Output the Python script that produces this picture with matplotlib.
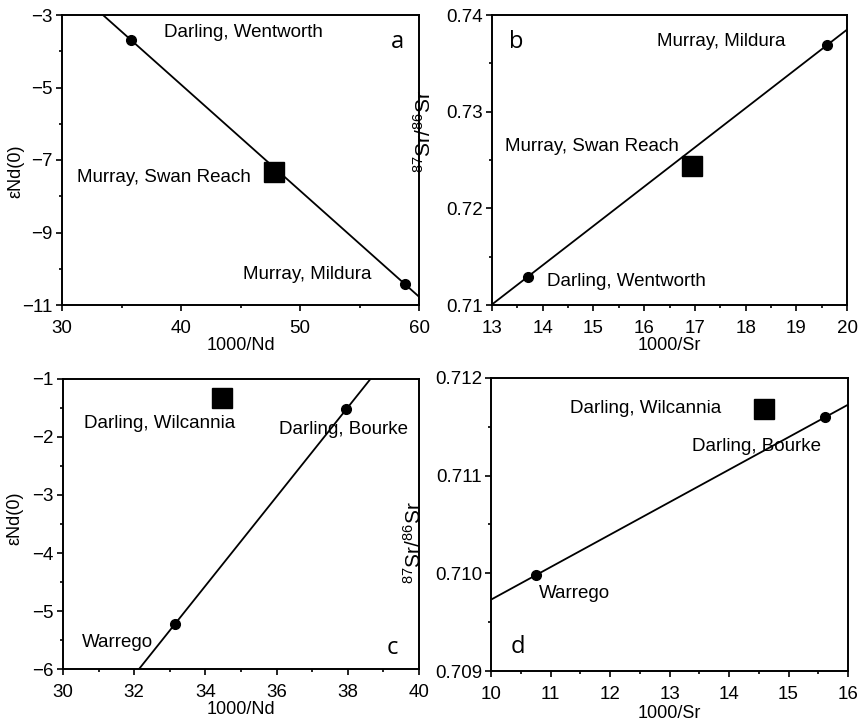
import numpy as np
import matplotlib
matplotlib.use("Agg")
import matplotlib.pyplot as plt
from matplotlib.ticker import MultipleLocator, FixedLocator, FormatStrFormatter

plt.rcParams["font.family"] = ["Liberation Sans", "DejaVu Sans"]
plt.rcParams["mathtext.default"] = "regular"

# ---- data ----
# a: eNd vs 1000/Nd (Murray)
a_circ_x = [35.8, 58.8]
a_circ_y = [-3.69, -10.42]
a_sq_x = [47.8]
a_sq_y = [-7.32]
a_labels = ["Darling, Wentworth", "Murray, Swan Reach", "Murray, Mildura"]

# b: 87Sr/86Sr vs 1000/Sr (Murray)
b_circ_x = [13.70, 19.61]
b_circ_y = [0.7129, 0.7369]
b_sq_x = [16.95]
b_sq_y = [0.7244]
b_labels = ["Murray, Mildura", "Murray, Swan Reach", "Darling, Wentworth"]

# c: eNd vs 1000/Nd (Darling)
c_circ_x = [33.15, 37.96]
c_circ_y = [-5.22, -1.52]
c_sq_x = [34.48]
c_sq_y = [-1.32]
c_labels = ["Darling, Wilcannia", "Darling, Bourke", "Warrego"]

# d: 87Sr/86Sr vs 1000/Sr (Darling)
d_circ_x = [10.75, 15.62]
d_circ_y = [0.70998, 0.71160]
d_sq_x = [14.59]
d_sq_y = [0.71168]
d_labels = ["Darling, Wilcannia", "Darling, Bourke", "Warrego"]

W, H = 863, 727
fig = plt.figure(figsize=(W / 100, H / 100), dpi=100)


def px_axes(left, top, right, bottom):
    return fig.add_axes([left / W, 1 - bottom / H, (right - left) / W, (bottom - top) / H])


def style(ax, xlim, ylim, xmaj, xmin, ymaj, ymin):
    ax.set_xlim(*xlim)
    ax.set_ylim(*ylim)
    ax.xaxis.set_major_locator(MultipleLocator(xmaj))
    ax.xaxis.set_minor_locator(MultipleLocator(xmin))
    ax.yaxis.set_major_locator(MultipleLocator(ymaj))
    ax.yaxis.set_minor_locator(MultipleLocator(ymin))
    ax.tick_params(which="both", direction="out", top=False, right=False,
                   labelsize=13.5, width=1.2)
    ax.tick_params(axis="x", pad=6.5)
    ax.tick_params(axis="y", pad=2.5)
    ax.tick_params(which="major", length=4)
    ax.tick_params(which="minor", length=2.5)
    for s in ax.spines.values():
        s.set_linewidth(1.4)


def mix_line(ax, xs, ys):
    k, b = np.polyfit(xs, ys, 1)
    x0, x1 = ax.get_xlim()
    xx = np.array([x0, x1])
    ax.plot(xx, k * xx + b, color="black", lw=1.3, zorder=2)


def points(ax, cx, cy, sx, sy):
    ax.plot(cx, cy, "o", color="black", ms=7, zorder=3)
    ax.plot(sx, sy, "s", color="black", ms=14, zorder=3)


lab = dict(fontsize=13.5, va="center", ha="left")
panel = dict(fontsize=17, va="center", ha="left", family=["Open Sans", "DejaVu Sans"])
sr_label = r"$^{87}$Sr/$^{86}$Sr"

# ---- panel a ----
ax = px_axes(62, 15, 419, 305)
style(ax, (30, 60), (-11, -3), 10, 5, 2, 1)
ax.yaxis.set_major_locator(FixedLocator([-11, -9, -7, -5, -3]))
mix_line(ax, a_circ_x, a_circ_y)
points(ax, a_circ_x, a_circ_y, a_sq_x, a_sq_y)
ax.text(38.6, -3.47, a_labels[0], **lab)
ax.text(31.3, -7.47, a_labels[1], **lab)
ax.text(45.2, -10.17, a_labels[2], **lab)
ax.text(57.6, -3.75, "a", **panel)
ax.set_xlabel("1000/Nd", fontsize=13, labelpad=0)
ax.set_ylabel("εNd(0)", fontsize=13)
ax.yaxis.set_label_coords(-0.105, 0.46)

# ---- panel b ----
ax = px_axes(492, 15, 847, 305)
style(ax, (13, 20), (0.71, 0.74), 1, 0.5, 0.01, 0.005)
ax.yaxis.set_major_formatter(FormatStrFormatter("%.2f"))
mix_line(ax, b_circ_x, b_circ_y)
points(ax, b_circ_x, b_circ_y, b_sq_x, b_sq_y)
ax.text(16.26, 0.73724, b_labels[0], **lab)
ax.text(13.26, 0.72638, b_labels[1], **lab)
ax.text(14.08, 0.71248, b_labels[2], **lab)
ax.text(13.33, 0.7372, "b", **panel)
ax.set_xlabel("1000/Sr", fontsize=13, labelpad=0)
ax.set_ylabel(sr_label, fontsize=15)
ax.yaxis.set_label_coords(-0.16, 0.6)

# ---- panel c ----
ax = px_axes(63, 379, 419, 669)
style(ax, (30, 40), (-6, -1), 2, 1, 1, 0.5)
mix_line(ax, c_circ_x, c_circ_y)
points(ax, c_circ_x, c_circ_y, c_sq_x, c_sq_y)
ax.text(30.6, -1.77, c_labels[0], **lab)
ax.text(36.06, -1.87, c_labels[1], **lab)
ax.text(30.52, -5.55, c_labels[2], **lab)
ax.text(39.1, -5.64, "c", **panel)
ax.set_xlabel("1000/Nd", fontsize=13, labelpad=0)
ax.set_ylabel("εNd(0)", fontsize=13)
ax.yaxis.set_label_coords(-0.11, 0.52)

# ---- panel d ----
ax = px_axes(491, 378, 848, 671)
style(ax, (10, 16), (0.709, 0.712), 1, 0.5, 0.001, 0.0005)
ax.yaxis.set_major_formatter(FormatStrFormatter("%.3f"))
mix_line(ax, d_circ_x, d_circ_y)
points(ax, d_circ_x, d_circ_y, d_sq_x, d_sq_y)
ax.text(11.32, 0.711685, d_labels[0], **lab)
ax.text(13.37, 0.7113, d_labels[1], **lab)
ax.text(10.81, 0.70979, d_labels[2], **lab)
ax.text(10.33, 0.70925, "d", **panel)
ax.set_xlabel("1000/Sr", fontsize=13, labelpad=2)
ax.set_ylabel(sr_label, fontsize=15)
ax.yaxis.set_label_coords(-0.185, 0.44)

fig.savefig("out.png", dpi=100)
